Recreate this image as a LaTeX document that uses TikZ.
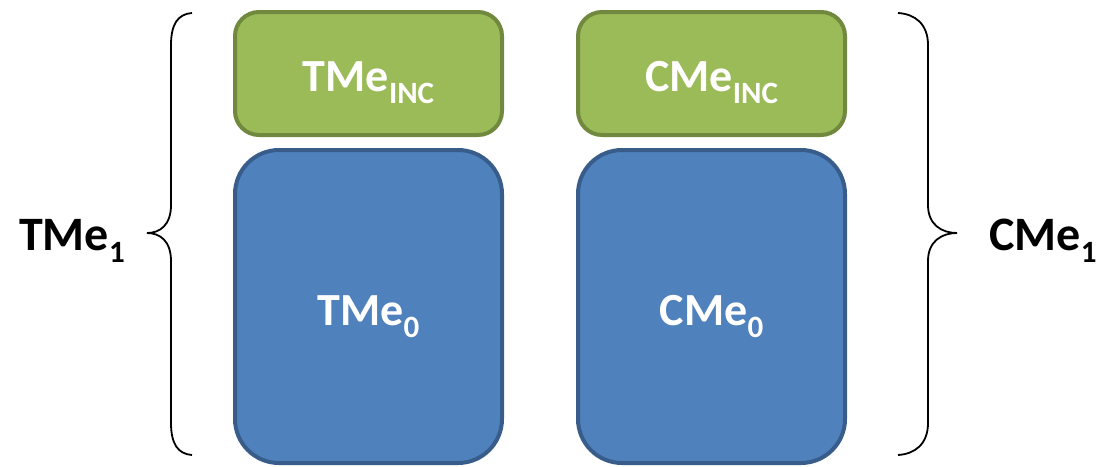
\documentclass[tikz,border=0pt]{standalone}
\usepackage{fontspec}
\setmainfont{Carlito}
\definecolor{gfill}{HTML}{9BBB59}
\definecolor{gline}{HTML}{71893F}
\definecolor{bfill}{HTML}{4F81BD}
\definecolor{bline}{HTML}{385D8A}
\newcommand{\lbl}[2]{\textbf{#1\raisebox{-0.27em}{\fontsize{31}{31}\selectfont #2}}}
\begin{document}
\begin{tikzpicture}[x=1pt,y=-1pt,
  greenbox/.style={draw=gline,fill=gfill,line width=4pt,rounded corners=24pt,minimum width=267pt,minimum height=123pt,inner sep=0pt},
  bluebox/.style={draw=bline,fill=bfill,line width=4pt,rounded corners=44pt,minimum width=267pt,minimum height=313pt,inner sep=0pt},
  boxtext/.style={text=white,font=\fontsize{46}{46}\selectfont\bfseries,inner sep=0pt,anchor=base},
  sidelabel/.style={font=\fontsize{48}{48}\selectfont\bfseries,inner sep=0pt,anchor=base},
  bracestyle/.style={draw=black,line width=1.8pt}]
\useasboundingbox (0,0) rectangle (1105,466);
\node[greenbox] (tinc) at (368.5,73.5) {};
\node[bluebox] (t0) at (368.5,306.5) {};
\node[greenbox] (cinc) at (711.5,73.5) {};
\node[bluebox] (c0) at (711.5,306.5) {};
\node[boxtext] (tinct) at (368.5,91) {\lbl{TMe}{INC}};
\node[boxtext] (t0t) at (368.5,325) {\lbl{TMe}{0}};
\node[boxtext] (cinct) at (711.5,91) {\lbl{CMe}{INC}};
\node[boxtext] (c0t) at (711.5,325) {\lbl{CMe}{0}};
\node[sidelabel] (t1) at (72,250) {\lbl{TMe}{1}};
\node[sidelabel] (c1) at (1043,250) {\lbl{CMe}{1}};
% left brace
\draw[bracestyle] (192,13) .. controls (178,14) and (171,24) .. (171,45)
  -- (171,205) .. controls (171,225) and (160,233) .. (147,233)
  .. controls (160,233) and (171,241) .. (171,261)
  -- (171,423) .. controls (171,444) and (178,454) .. (192,455);
% right brace
\draw[bracestyle] (898,13) .. controls (915,14) and (928,24) .. (928,45)
  -- (928,205) .. controls (928,225) and (942,233) .. (957,233)
  .. controls (942,233) and (928,241) .. (928,261)
  -- (928,423) .. controls (928,444) and (915,454) .. (898,455);
\end{tikzpicture}
\end{document}
